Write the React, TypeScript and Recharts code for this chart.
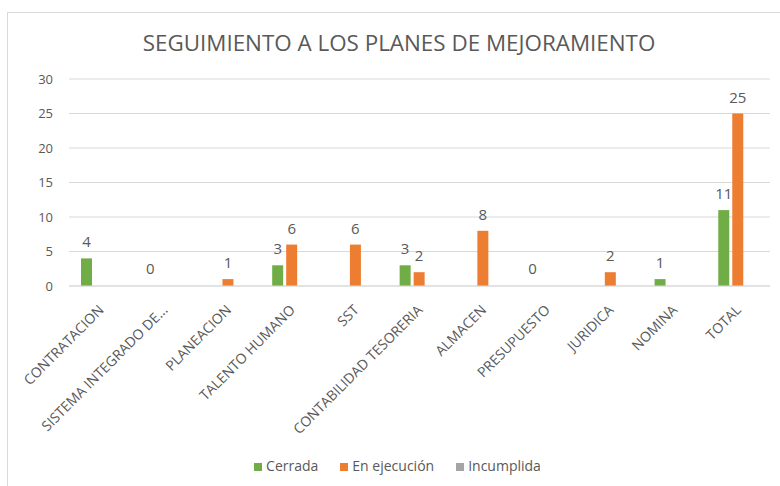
import React from "react";
import {
  BarChart, Bar, XAxis, YAxis, CartesianGrid, Legend, LabelList, Cell,
} from "recharts";

const categories = [
  "CONTRATACION",
  "SISTEMA INTEGRADO DE...",
  "PLANEACION",
  "TALENTO HUMANO",
  "SST",
  "CONTABILIDAD TESORERIA",
  "ALMACEN",
  "PRESUPUESTO",
  "JURIDICA",
  "NOMINA",
  "TOTAL",
];
const cerrada = [4, 0, null, 3, null, 3, null, 0, null, 1, 11];
const enEjecucion = [null, null, 1, 6, 6, 2, 8, null, 2, null, 25];
const incumplida = [null, null, null, null, null, null, null, null, null, null, null];
const yTicks = [0, 5, 10, 15, 20, 25, 30];

const data = categories.map((name, i) => ({
  name,
  cerrada: cerrada[i],
  enEjecucion: enEjecucion[i],
  incumplida: incumplida[i],
}));

const FONT = "'Open Sans', sans-serif";
const TXT = "#595959";
const GREEN = "#70AD47";

function CatTick({ x, y, payload }: any) {
  const ty = y + 13;
  return (
    <text
      x={x}
      y={ty}
      transform={`rotate(-45, ${x}, ${ty})`}
      textAnchor="end"
      dominantBaseline="central"
      fill={TXT}
      fontSize={14}
      fontFamily={FONT}
    >
      {payload.value}
    </text>
  );
}

const labelStyle = { fill: TXT, fontSize: 15, fontFamily: FONT };

// zero values get a hairline (transparent) bar so that their "0" label still shows
const zeroMin = (v: any) => (v === 0 ? 1 : 0);

export default function App() {
  return (
    <div style={{ position: "fixed", left: 0, top: 0, width: 780, height: 486, overflow: "hidden", background: "#fff" }}>
      <div
        style={{
          position: "absolute", left: 7, top: 12, width: 800, height: 500,
          border: "1px solid #d9d9d9", boxSizing: "border-box",
        }}
      />
      <div
        style={{
          position: "absolute", left: 0, width: 798, top: 28, textAlign: "center",
          fontFamily: FONT, fontSize: 22.4, color: TXT, lineHeight: "30px",
        }}
      >
        SEGUIMIENTO A LOS PLANES DE MEJORAMIENTO
      </div>
      <div style={{ position: "absolute", left: 7, top: 12 }}>
        <BarChart
          width={773}
          height={474}
          data={data}
          margin={{ top: 67, right: 10, left: 0, bottom: 11 }}
          barSize={11}
          barGap={3}
        >
          <CartesianGrid vertical={false} stroke="#d9d9d9" strokeWidth={1} />
          <XAxis
            dataKey="name"
            tick={<CatTick />}
            interval={0}
            tickLine={false}
            axisLine={{ stroke: "#d9d9d9" }}
            height={170}
          />
          <YAxis
            domain={[0, 30]}
            ticks={yTicks}
            width={62}
            axisLine={false}
            tickLine={false}
            tickMargin={10}
            tick={{ fill: TXT, fontSize: 13, fontFamily: FONT }}
          />
          <Legend
            verticalAlign="bottom"
            align="center"
            iconType="square"
            iconSize={8}
            wrapperStyle={{ paddingLeft: 20 }}
            formatter={(v: string) => (
              <span style={{ color: TXT, fontSize: 14, fontFamily: FONT, marginRight: 12 }}>{v}</span>
            )}
          />
          <Bar dataKey="cerrada" name="Cerrada" fill={GREEN} minPointSize={zeroMin} isAnimationActive={false}>
            {cerrada.map((v, i) => (
              <Cell key={i} fill={v === 0 ? "transparent" : GREEN} />
            ))}
            <LabelList dataKey="cerrada" position="top" offset={11} style={labelStyle} />
          </Bar>
          <Bar dataKey="enEjecucion" name="En ejecución" fill="#ED7D31" isAnimationActive={false}>
            <LabelList dataKey="enEjecucion" position="top" offset={11} style={labelStyle} />
          </Bar>
          <Bar dataKey="incumplida" name="Incumplida" fill="#A5A5A5" isAnimationActive={false}>
            <LabelList dataKey="incumplida" position="top" offset={11} style={labelStyle} />
          </Bar>
        </BarChart>
      </div>
    </div>
  );
}
